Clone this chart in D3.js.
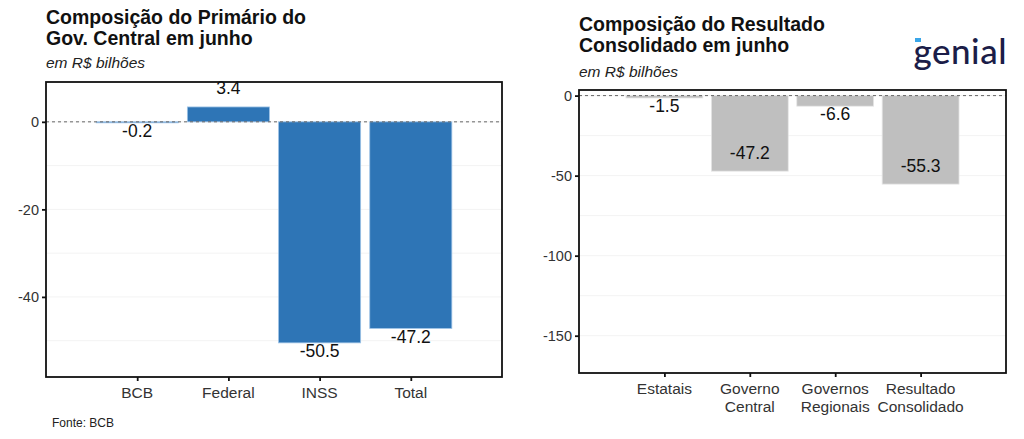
<!DOCTYPE html>
<html><head><meta charset="utf-8">
<script src="https://cdn.jsdelivr.net/npm/d3@7/dist/d3.min.js"></script>
<style>body{margin:0;background:#fff}svg{display:block;font-family:"Liberation Sans",Arial,sans-serif}</style>
</head><body><svg id="c" width="1024" height="439"></svg>
<script>
// Data
const leftCategories = ["BCB", "Federal", "INSS", "Total"];
const leftValues = [-0.2, 3.4, -50.5, -47.2];
const leftTicks = [0, -20, -40];
const rightCategories = ["Estatais", "Governo\nCentral", "Governos\nRegionais", "Resultado\nConsolidado"];
const rightValues = [-1.5, -47.2, -6.6, -55.3];
const rightTicks = [0, -50, -100, -150];

const svg = d3.select("#c");

function panel(opt) {
  const g = svg.append("g");
  const x = d3.scaleLinear().domain([0, opt.cats.length + 1]).range([opt.x0, opt.x1]);
  const y = d3.scaleLinear().domain(opt.ydom).range([opt.y1, opt.y0]);
  const bw = (x(1) - x(0)) * 0.9;
  // grid
  g.selectAll(".grid").data(opt.grid).join("line")
    .attr("x1", opt.x0).attr("x2", opt.x1)
    .attr("y1", d => y(d)).attr("y2", d => y(d))
    .attr("stroke", "#f3f3f3").attr("stroke-width", 1);
  // bars
  g.selectAll(".bar").data(opt.vals).join("rect")
    .attr("x", (d, i) => x(i + 1) - bw / 2).attr("width", bw)
    .attr("y", d => Math.min(y(d), y(0)))
    .attr("height", d => Math.max(1, Math.abs(y(d) - y(0))))
    .attr("fill", opt.color).attr("stroke", opt.edge).attr("stroke-width", 0.8);
  // zero line
  g.append("line").attr("x1", opt.x0).attr("x2", opt.x1)
    .attr("y1", y(0)).attr("y2", y(0))
    .attr("stroke", "#666").attr("stroke-dasharray", "3,3").attr("stroke-width", 1);
  // labels
  g.selectAll(".lab").data(opt.vals).join("text")
    .attr("x", (d, i) => x(i + 1))
    .attr("y", d => y(d) + opt.labOff(d))
    .attr("dy", "0.35em").attr("text-anchor", "middle")
    .attr("font-size", 17.5).attr("fill", "#111")
    .text(d => d.toFixed(1));
  // frame
  g.append("rect").attr("x", opt.x0).attr("y", opt.y0)
    .attr("width", opt.x1 - opt.x0).attr("height", opt.y1 - opt.y0)
    .attr("fill", "none").attr("stroke", "#111").attr("stroke-width", 1.8);
  // y axis
  const ya = d3.axisLeft(y).tickValues(opt.ticks).tickSize(4).tickPadding(3).tickFormat(d => String(d));
  const yg = g.append("g").attr("transform", `translate(${opt.x0},0)`).call(ya);
  yg.select(".domain").remove();
  yg.selectAll("line").attr("stroke", "#111").attr("stroke-width", 1.8);
  yg.selectAll("text").attr("font-size", 14.5).attr("fill", "#333").attr("font-family", "Liberation Sans, Arial, sans-serif");
  // x axis
  const xa = d3.axisBottom(x).tickValues(opt.cats.map((c, i) => i + 1)).tickSize(4).tickFormat("");
  const xg = g.append("g").attr("transform", `translate(0,${opt.y1})`).call(xa);
  xg.select(".domain").remove();
  xg.selectAll("line").attr("stroke", "#111").attr("stroke-width", 1.8);
  opt.cats.forEach((c, i) => {
    const t = g.append("text").attr("x", x(i + 1)).attr("y", opt.y1 + 21)
      .attr("text-anchor", "middle").attr("font-size", 15.5).attr("fill", "#333");
    c.split("\n").forEach((s, j) => t.append("tspan").attr("x", x(i + 1)).attr("dy", j ? 18 : 0).text(s));
  });
  // titles
  const tt = svg.append("text").attr("x", opt.x0).attr("y", opt.ty)
    .attr("font-size", 19.5).attr("font-weight", "bold").attr("fill", "#111");
  opt.title.forEach((s, j) => tt.append("tspan").attr("x", opt.x0).attr("dy", j ? 21 : 0).text(s));
  svg.append("text").attr("x", opt.x0).attr("y", opt.sy)
    .attr("font-size", 15.5).attr("font-style", "italic").attr("fill", "#222")
    .text("em R$ bilhões");
}

panel({
  cats: leftCategories, vals: leftValues, ticks: leftTicks,
  grid: [0, -10, -20, -30, -40, -50],
  ydom: [-58.3, 9.1], x0: 46, x1: 502, y0: 82, y1: 377,
  color: "#2E75B6", edge: "#9dc3e6",
  labOff: d => d >= 0 ? -19 : 8,
  title: ["Composição do Primário do", "Gov. Central em junho"], ty: 24, sy: 68
});
panel({
  cats: rightCategories, vals: rightValues, ticks: rightTicks,
  grid: [0, -25, -50, -75, -100, -125, -150],
  ydom: [-173.3, 3.5], x0: 579, x1: 1006, y0: 90, y1: 373,
  color: "#BFBFBF", edge: "#e6e6e6",
  labOff: d => d < -20 ? -18 : 8,
  title: ["Composição do Resultado", "Consolidado em junho"], ty: 31, sy: 77
});

svg.append("text").attr("x", 52).attr("y", 427).attr("font-size", 12).attr("fill", "#222").text("Fonte: BCB");

// logo
svg.append("text").attr("x", 1007).attr("y", 64).attr("text-anchor", "end")
  .attr("font-family", "Lato, 'Open Sans', sans-serif").attr("font-size", 35).attr("font-weight", 500)
  .attr("fill", "#1b1d48").attr("letter-spacing", 0.5).text("genial");
svg.append("rect").attr("x", 915).attr("y", 38).attr("width", 6).attr("height", 4).attr("fill", "#3aa6e8");
</script></body></html>
